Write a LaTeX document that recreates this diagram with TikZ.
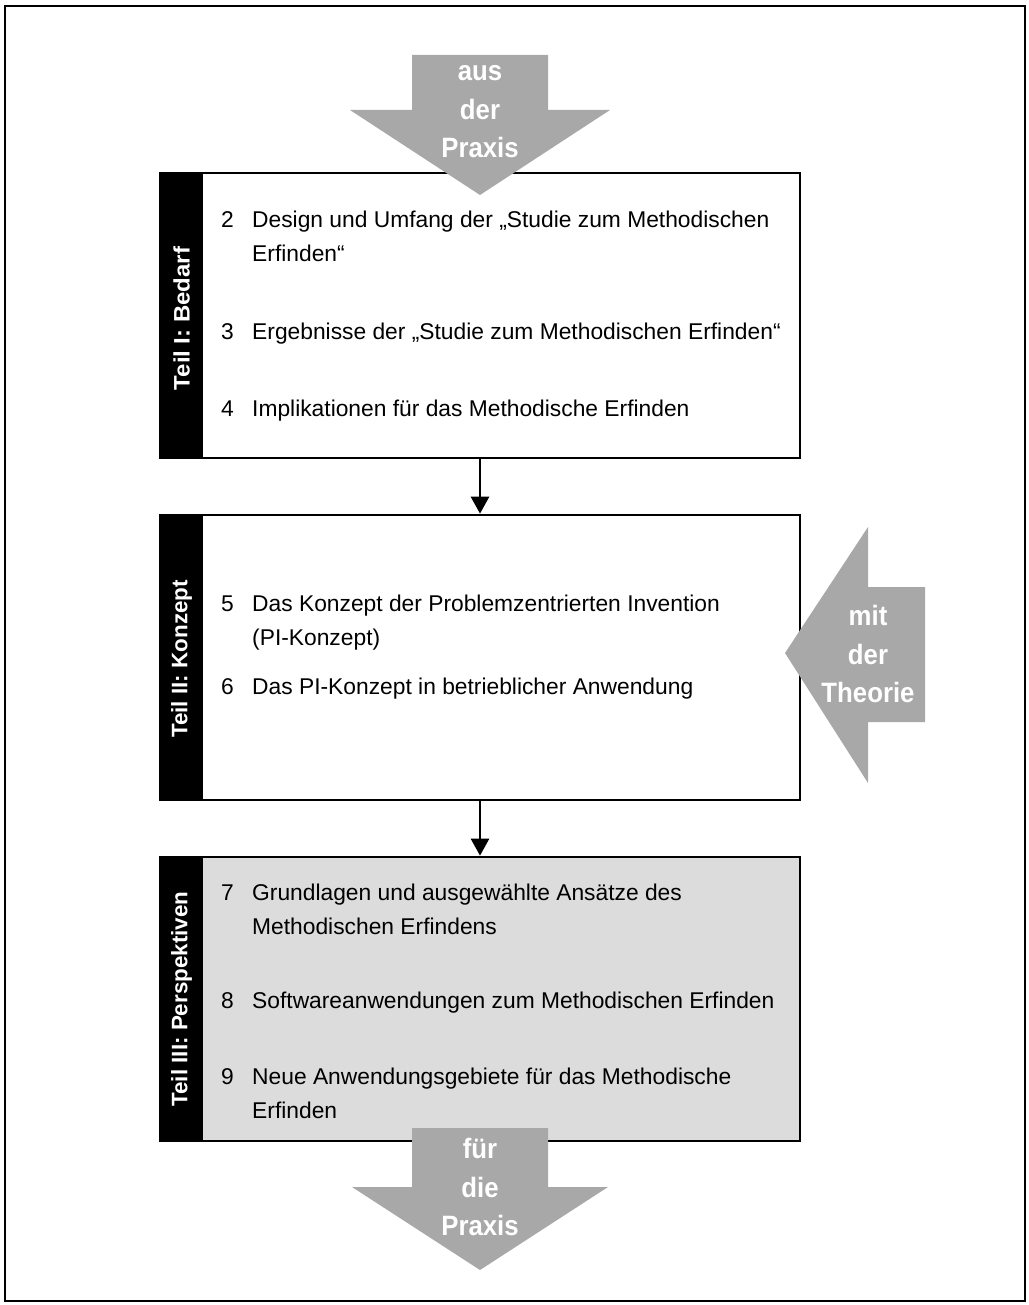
\documentclass[tikz,border=0pt]{standalone}
\usepackage{fontspec}
\setmainfont{Liberation Sans}
\newfontfamily\arrowfont[FakeStretch=0.92]{Liberation Sans}
\usetikzlibrary{arrows.meta}
\definecolor{arrowgrey}{HTML}{A8A8A8}
\definecolor{boxgrey}{HTML}{DCDCDC}
\begin{document}
\begin{tikzpicture}[x=1pt,y=-1pt,
 box/.style={draw, line width=2.7pt, minimum width=640pt, inner sep=0pt},
 bar/.style={fill=black, minimum width=43pt, inner sep=0pt},
 barlabel/.style={rotate=90, text=white, inner sep=0pt, font=\fontsize{22.4}{26}\selectfont\bfseries},
 num/.style={anchor=base west, inner sep=0pt, font=\fontsize{22.8}{34}\selectfont},
 item/.style={anchor=base west, inner sep=0pt, align=left, font=\fontsize{22.8}{34}\selectfont},
 bigarrow/.style={fill=arrowgrey},
 arrowtext/.style={text=white, align=center, inner sep=0pt, font=\arrowfont\fontsize{28}{38.5}\selectfont\bfseries},
 conn/.style={line width=2.7pt, -{Triangle[length=17pt,width=18pt]}}
]
\useasboundingbox (0,0) rectangle (1028,1305);
\draw[line width=2.5pt] (5,6) rectangle (1025,1301);

% boxes
\node[box, minimum height=285pt] (b1) at (480,315.5) {};
\node[bar, minimum height=285pt] (bar1) at (181.5,315.5) {};
\node[barlabel] (l1) at (181.5,318.5) {\scalebox{1.07}[1]{Teil I: Bedarf}};

\node[box, minimum height=285pt] (b2) at (480,657.5) {};
\node[bar, minimum height=285pt] (bar2) at (181.5,657.5) {};
\node[barlabel] (l2) at (181.5,659) {Teil II: Konzept};

\node[box, fill=boxgrey, minimum height=284pt] (b3) at (480,999) {};
\node[bar, minimum height=284pt] (bar3) at (181.5,999) {};
\node[barlabel] (l3) at (bar3.center) {Teil III: Perspektiven};

% items (multi-line nodes: base = last line)
\node[num] (n2) at (221,228) {2};
\node[item] (t2) at (252,262) {Design und Umfang der „Studie zum Methodischen\\Erfinden“};
\node[num] (n3) at (221,339) {3};
\node[item] (t3) at (252,339) {Ergebnisse der „Studie zum Methodischen Erfinden“};
\node[num] (n4) at (221,416) {4};
\node[item] (t4) at (252,416) {Implikationen für das Methodische Erfinden};

\node[num] (n5) at (221,611) {5};
\node[item] (t5) at (252,645) {Das Konzept der Problemzentrierten Invention\\(PI-Konzept)};
\node[num] (n6) at (221,694) {6};
\node[item] (t6) at (252,694) {Das PI-Konzept in betrieblicher Anwendung};

\node[num] (n7) at (221,900) {7};
\node[item] (t7) at (252,934) {Grundlagen und ausgewählte Ansätze des\\Methodischen Erfindens};
\node[num] (n8) at (221,1008) {8};
\node[item] (t8) at (252,1008) {Softwareanwendungen zum Methodischen Erfinden};
\node[num] (n9) at (221,1084) {9};
\node[item] (t9) at (252,1118) {Neue Anwendungsgebiete für das Methodische\\Erfinden};

% connectors
\draw[conn] (b1.south) -- (b2.north);
\draw[conn] (b2.south) -- (b3.north);

% big arrows
\fill[bigarrow] (412,55) -- (548,55) -- (548,110) -- (610,110) -- (480,195) -- (350,110) -- (412,110) -- cycle;
\node[arrowtext] (a1) at (480,112) {aus\\der\\Praxis};

\fill[bigarrow] (925,587) -- (925,722) -- (868,722) -- (868,783) -- (785,653) -- (868,527) -- (868,587) -- cycle;
\node[arrowtext] (a2) at (868,654) {mit\\der\\Theorie};

\fill[bigarrow] (412,1128) -- (548,1128) -- (548,1187) -- (608,1187) -- (480,1270) -- (352,1187) -- (412,1187) -- cycle;
\node[arrowtext] (a3) at (480,1187) {für\\die\\Praxis};
\end{tikzpicture}
\end{document}
